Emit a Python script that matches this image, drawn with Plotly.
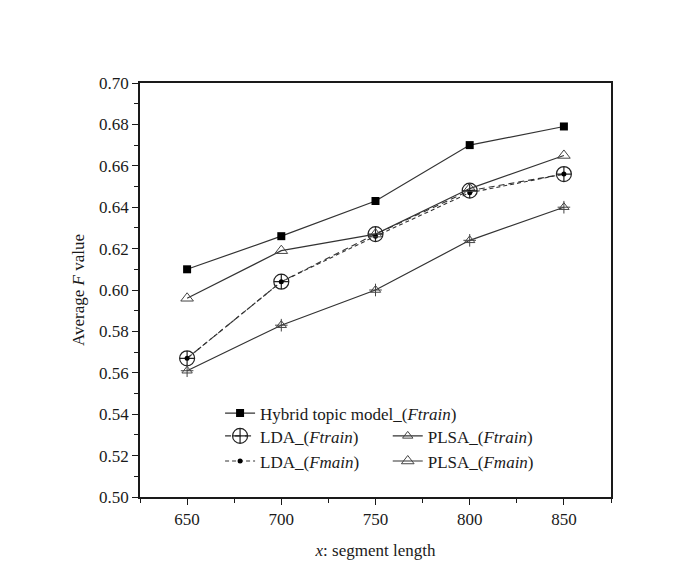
import plotly.graph_objects as go

segment_length = [650, 700, 750, 800, 850]
hybrid_ftrain = [0.610, 0.626, 0.643, 0.670, 0.679]
lda_ftrain = [0.567, 0.604, 0.627, 0.648, 0.656]
lda_fmain = [0.567, 0.604, 0.626, 0.647, 0.656]
plsa_ftrain = [0.561, 0.583, 0.600, 0.624, 0.640]
plsa_fmain = [0.596, 0.619, 0.627, 0.649, 0.665]

x_ticks = [650, 700, 750, 800, 850]
y_ticks = [0.50, 0.52, 0.54, 0.56, 0.58, 0.60, 0.62, 0.64, 0.66, 0.68, 0.70]

FONT = "Liberation Serif"
INK = "#1a1a1a"
LINE = "#333333"

fig = go.Figure()

fig.add_trace(go.Scatter(
    x=segment_length, y=hybrid_ftrain, mode="lines+markers",
    name="Hybrid topic model_(<i>Ftrain</i>)",
    line=dict(color=LINE, width=1.2),
    marker=dict(symbol="square", size=8, color="black"),
    legend="legend"))

fig.add_trace(go.Scatter(
    x=segment_length, y=lda_ftrain, mode="lines+markers",
    name="LDA_(<i>Ftrain</i>)",
    line=dict(color=LINE, width=1.1, dash="6px,4px"),
    marker=dict(symbol="circle-cross-open", size=15, color="#222",
                line=dict(width=1.2)),
    legend="legend2"))

fig.add_trace(go.Scatter(
    x=segment_length, y=lda_fmain, mode="lines+markers",
    name="LDA_(<i>Fmain</i>)",
    line=dict(color=LINE, width=1.1, dash="4px,3px"),
    marker=dict(symbol="circle", size=5, color="black"),
    legend="legend2"))

fig.add_trace(go.Scatter(
    x=segment_length, y=plsa_ftrain, mode="lines+markers",
    name="PLSA_(<i>Ftrain</i>)",
    line=dict(color=LINE, width=1.2),
    marker=dict(symbol="triangle-up-open", size=9, color="#444",
                line=dict(width=1)),
    legend="legend3"))

fig.add_trace(go.Scatter(
    x=segment_length, y=plsa_ftrain, mode="markers",
    showlegend=False, hoverinfo="skip",
    marker=dict(symbol="cross-thin-open", size=9, color="#444",
                line=dict(width=1, color="#444"))))

fig.add_trace(go.Scatter(
    x=segment_length, y=plsa_fmain, mode="lines+markers",
    name="PLSA_(<i>Fmain</i>)",
    line=dict(color=LINE, width=1.2),
    marker=dict(symbol="triangle-up-open", size=11, color="#444",
                line=dict(width=1)),
    legend="legend3"))

legend_common = dict(font=dict(family=FONT, size=17, color=INK),
                     bgcolor="rgba(0,0,0,0)", borderwidth=0,
                     xanchor="left", yanchor="top", tracegroupgap=0,
                     itemwidth=30)

fig.update_layout(
    width=686, height=577,
    margin=dict(l=132, r=83, t=75, b=88),
    paper_bgcolor="white", plot_bgcolor="white",
    font=dict(family=FONT, size=17, color=INK),
    legend=dict(x=0.17, y=0.245, **legend_common),
    legend2=dict(x=0.17, y=0.19, **legend_common),
    legend3=dict(x=0.526, y=0.19, **legend_common),
    xaxis=dict(
        range=[625, 875], tickvals=x_ticks, ticks="outside", ticklen=6,
        tickwidth=1.2, tickcolor=INK, showline=True, linecolor=INK,
        linewidth=1.5, mirror=True, showgrid=False, zeroline=False,
        minor=dict(dtick=25, tick0=625, ticks="outside", ticklen=4,
                   tickcolor=INK, tickwidth=1.2),
        title=dict(text="<i>x</i>: segment length", standoff=16,
                   font=dict(family=FONT, size=17))),
    yaxis=dict(
        range=[0.50, 0.70], tickvals=y_ticks, tickformat=".2f",
        ticks="outside", ticklen=6, tickwidth=1.2, tickcolor=INK,
        showline=True, linecolor=INK, linewidth=1.5, mirror=True,
        showgrid=False, zeroline=False,
        minor=dict(dtick=0.01, tick0=0.5, ticks="outside", ticklen=4,
                   tickcolor=INK, tickwidth=1.2),
        title=dict(text="Average <i>F</i> value", standoff=10,
                   font=dict(family=FONT, size=17))),
)

fig.write_html("out.html")
